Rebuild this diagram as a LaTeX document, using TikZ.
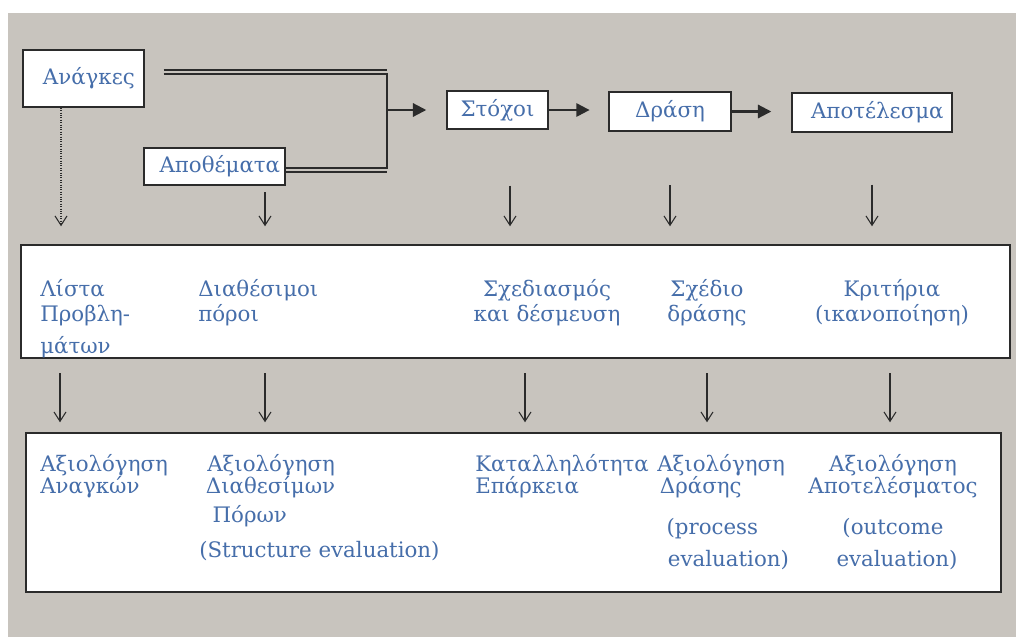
\documentclass[tikz,border=0pt]{standalone}
\usepackage{fontspec}
\setmainfont{DejaVu Serif}
\usetikzlibrary{arrows.meta, positioning, calc}
\definecolor{Paper}{HTML}{C8C4BE}
\definecolor{Ink}  {HTML}{2B2B2B}
\definecolor{Blue} {HTML}{466EAA}
\tikzset{
  box/.style={draw=Ink, line width=1.1pt, fill=white, inner sep=0pt, text=Blue,
              font=\fontsize{16}{19}\selectfont},
  txt/.style={inner sep=0pt, text=Blue, font=\fontsize{16}{18.75}\selectfont},
  evtxt/.style={txt, font=\fontsize{16}{16.5}\selectfont},
  arr/.style={-{Straight Barb[length=7pt,width=9pt]}, line width=0.8pt, color=Ink},
  harr/.style={-{Triangle[length=10pt,width=10pt]}, line width=1.6pt, color=Ink},
  pipe/.style={line width=1.3pt, color=Ink}
}

\begin{document}
\begin{tikzpicture}[x=0.75pt, y=-0.75pt]
  \useasboundingbox (0,0) rectangle (1016,637);
  \fill[white] (0,0) rectangle (1016,637);
  \fill[Paper] (8,13) rectangle (1016,637);
  % top row
  \node[box, minimum width=90.75pt, minimum height=42.75pt] (needs) at (83.5,78.5) {\hspace*{8pt}Ανάγκες};
  \node[box, minimum width=105.75pt, minimum height=27.75pt] (stock) at (214.5,166.5) {\hspace*{8pt}Αποθέματα};
  \node[box, minimum width=75.75pt, minimum height=28.5pt] (goals) at (497.5,110) {Στόχοι};
  \node[box, minimum width=91.5pt, minimum height=29.25pt] (action) at (670,111.5) {Δράση};
  \node[box, minimum width=120pt, minimum height=29.25pt] (result) at (872,112.5) {\hspace*{8pt}Αποτέλεσμα};
  % the two frames
  \node[box, minimum width=741.75pt, minimum height=84.75pt] (mid) at (515.5,301.5) {};
  \node[box, minimum width=731.25pt, minimum height=119.25pt] (bot) at (513.5,512.5) {};
  % needs and stock merge into goals
  \coordinate (merge) at (387,74);
  \coordinate (top1) at ($(needs.east)+(19,-8.5)$);
  \coordinate (top2) at ($(needs.east)+(19,-4.5)$);
  \coordinate (low1) at ($(stock.east)+(0,1.5)$);
  \coordinate (low2) at ($(stock.east)+(0,5.5)$);
  \draw[pipe] (top1) -- (top1 -| merge);
  \draw[pipe] (top2) -- (merge) |- (low1);
  \draw[pipe] (low2) -- (low2 -| merge);
  \draw[harr, shorten >=15pt] (merge |- goals) -- (goals);
  \draw[harr, shorten >=14pt] (goals.east) -- (goals.east -| action.west);
  \draw[harr, shorten >=15pt] (action.east) -- (action.east -| result.west);
  % middle frame
  \node[txt, anchor=north west, align=left] (lst) at (40,279) {Λίστα\\Προβλη-\\[5pt]μάτων};
  \node[txt, anchor=north west, align=left] (avail) at (198,279) {Διαθέσιμοι\\πόροι};
  \node[txt, anchor=north, align=center] (plan) at (547,279) {Σχεδιασμός\\και δέσμευση};
  \node[txt, anchor=north, align=center] (scheme) at (707,279) {Σχέδιο\\δράσης};
  \node[txt, anchor=north, align=center] (crit) at (892,279) {Κριτήρια\\(ικανοποίηση)};
  % bottom frame
  \node[evtxt, anchor=north west, align=left] (evneeds) at (40,454) {Αξιολόγηση\\Αναγκών};
  \node[evtxt, anchor=north west, align=left] (evres) at (199,454)
    {\hspace*{6pt}Αξιολόγηση\\\hspace*{5pt}Διαθεσίμων\\[5pt]\hspace*{10pt}Πόρων\\[10pt](Structure evaluation)};
  \node[evtxt, anchor=north west, align=left] (evfit) at (475,454) {Καταλληλότητα\\Επάρκεια};
  \node[evtxt, anchor=north west, align=left] (evact) at (657,454)
    {Αξιολόγηση\\\hspace*{2pt}Δράσης\\[14pt]\hspace*{7pt}(process\\[7.5pt]\hspace*{8pt}evaluation)};
  \node[evtxt, anchor=north, align=center] (evout) at (893,454)
    {Αξιολόγηση\\Αποτελέσματος\\[14pt](outcome\\[7.5pt]\hspace*{6pt}evaluation)};
  % arrows down to the middle frame
  \coordinate (t1) at (61,0);  \coordinate (t2) at (265,0); \coordinate (t3) at (510,0);
  \coordinate (t4) at (670,0); \coordinate (t5) at (872,0);
  \draw[arr, densely dotted, shorten >=13.5pt] (needs.south -| t1) -- (mid.north -| t1);
  \draw[arr, shorten <=5pt, shorten >=13.5pt] (stock.south -| t2) -- (mid.north -| t2);
  \draw[arr, shorten <=42pt, shorten >=13.5pt] (goals.south -| t3) -- (mid.north -| t3);
  \draw[arr, shorten <=40pt, shorten >=13.5pt] (action.south -| t4) -- (mid.north -| t4);
  \draw[arr, shorten <=39pt, shorten >=13.5pt] (result.south -| t5) -- (mid.north -| t5);
  % arrows down to the bottom frame
  \coordinate (b1) at (60,0);  \coordinate (b2) at (265,0); \coordinate (b3) at (525,0);
  \coordinate (b4) at (707,0); \coordinate (b5) at (890,0);
  \draw[arr, shorten <=11pt, shorten >=7.5pt] (mid.south -| b1) -- (bot.north -| b1);
  \draw[arr, shorten <=11pt, shorten >=7.5pt] (mid.south -| b2) -- (bot.north -| b2);
  \draw[arr, shorten <=11pt, shorten >=7.5pt] (mid.south -| b3) -- (bot.north -| b3);
  \draw[arr, shorten <=11pt, shorten >=7.5pt] (mid.south -| b4) -- (bot.north -| b4);
  \draw[arr, shorten <=11pt, shorten >=7.5pt] (mid.south -| b5) -- (bot.north -| b5);
\end{tikzpicture}
\end{document}
